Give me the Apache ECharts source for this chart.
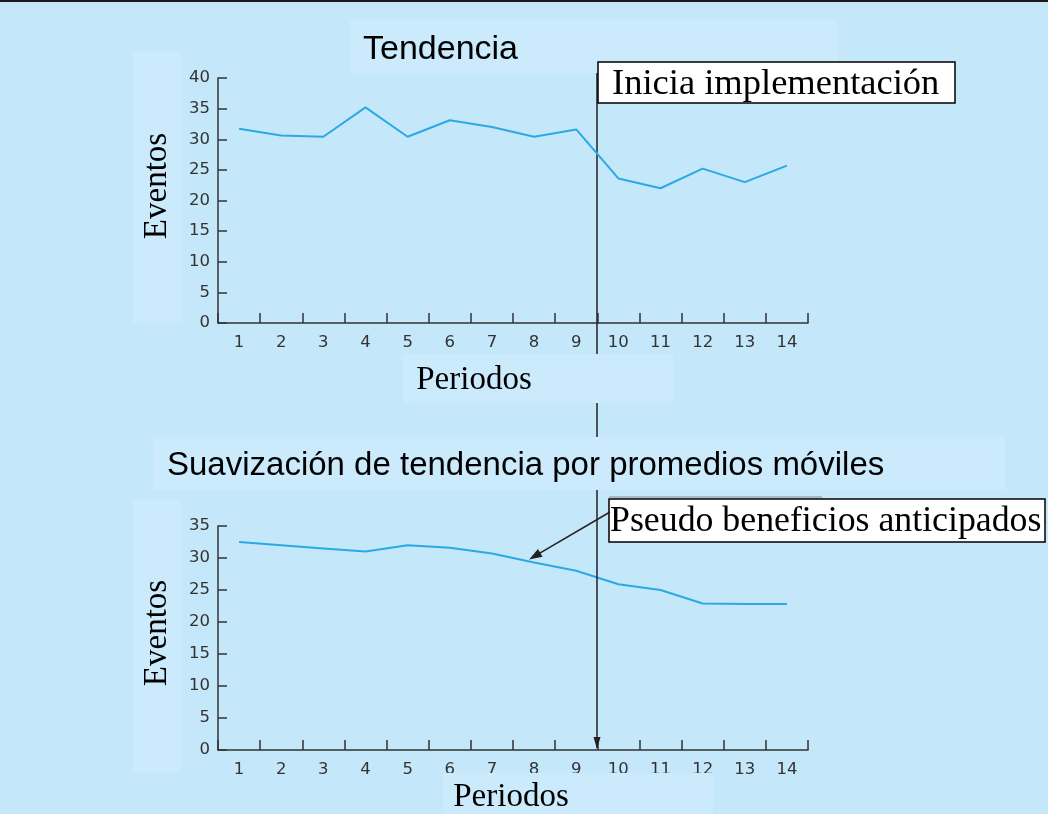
<!DOCTYPE html>
<html>
<head>
<meta charset="utf-8">
<script src="https://cdn.jsdelivr.net/npm/echarts@6/dist/echarts.min.js"></script>
<style>
html,body{margin:0;padding:0;background:#c5e7fa;}
#c{width:1048px;height:814px;}
</style>
</head>
<body>
<div id="c"></div>
<script>
// ---- data ----
const periods = ['1','2','3','4','5','6','7','8','9','10','11','12','13','14'];
const trend = [31.7,30.6,30.4,35.2,30.4,33.1,32.0,30.4,31.6,23.6,22.0,25.2,23.0,25.7];
const smoothed = [32.5,32.0,31.5,31.0,32.0,31.6,30.7,29.3,28.0,25.9,25.0,22.9,22.8,22.8];
const topTicks = [0,5,10,15,20,25,30,35,40];
const bottomTicks = [0,5,10,15,20,25,30,35];
const titleTop = 'Tendencia';
const titleBottom = 'Suavización de tendencia por promedios móviles';
const yName = 'Eventos';
const xName = 'Periodos';
const noteStart = 'Inicia implementación';
const notePseudo = 'Pseudo beneficios anticipados';
const startAfter = '9';   // implementation starts between period 9 and 10
const pseudoAt = '8';     // arrow points at period 8 on the smoothed line

const BG = '#c5e7fa', LIGHT = '#cbebfc', AX = '#333333', LINE = '#2aa9e6';
const SERIF = '"Liberation Serif", "DejaVu Serif", serif';
const SANS = '"Liberation Sans", Arial, sans-serif';

const chart = echarts.init(document.getElementById('c'), null, {renderer:'canvas'});

function xAxisCfg(gi){
  return {
    type:'category', gridIndex:gi, data:periods, boundaryGap:true,
    axisLine:{show:true,lineStyle:{color:AX,width:1.5}},
    axisTick:{show:true,inside:true,length:10,lineStyle:{color:AX,width:1.5}},
    axisLabel:{color:AX,fontFamily:'"DejaVu Sans", sans-serif',fontSize:16.5,margin:11},
    splitLine:{show:false}
  };
}
function yAxisCfg(gi,ticks){
  return {
    type:'value', gridIndex:gi, min:ticks[0], max:ticks[ticks.length-1], interval:ticks[1]-ticks[0],
    axisLine:{show:true,lineStyle:{color:AX,width:1.5}},
    axisTick:{show:true,inside:true,length:9,lineStyle:{color:AX,width:1.5}},
    axisLabel:{color:AX,fontFamily:'"DejaVu Sans", sans-serif',fontSize:16.5,margin:8},
    splitLine:{show:false}
  };
}

chart.setOption({
  animation:false,
  backgroundColor:BG,
  grid:[
    {left:218, top:78, width:590, height:245},
    {left:218, top:526, width:590, height:224}
  ],
  xAxis:[xAxisCfg(0), xAxisCfg(1)],
  yAxis:[yAxisCfg(0,topTicks), yAxisCfg(1,bottomTicks)],
  series:[
    {type:'line', xAxisIndex:0, yAxisIndex:0, data:trend, symbol:'none', lineStyle:{color:LINE,width:2}, z:5},
    {type:'line', xAxisIndex:1, yAxisIndex:1, data:smoothed, symbol:'none', lineStyle:{color:LINE,width:2}, z:5}
  ]
});

// positions derived from the axes
const i9 = periods.indexOf(startAfter);
const xa = chart.convertToPixel({xAxisIndex:0}, periods[i9]);
const xb = chart.convertToPixel({xAxisIndex:0}, periods[i9+1]);
const vx = Math.round((xa+xb)/2);
const y0Bottom = chart.convertToPixel({yAxisIndex:1}, 0);
const ip = periods.indexOf(pseudoAt);
const tip = chart.convertToPixel({xAxisIndex:1,yAxisIndex:1},[ip, smoothed[ip]]);
const tipX = tip[0]-5, tipY = tip[1]-3;
const fromX = 610, fromY = 512;
const ang = Math.atan2(tipY-fromY, tipX-fromX);
function head(x,y,a,len,w){
  const bx = x - len*Math.cos(a), by = y - len*Math.sin(a);
  const nx = -Math.sin(a)*w, ny = Math.cos(a)*w;
  return [[x,y],[bx+nx,by+ny],[bx-nx,by-ny]];
}

const g = [];
// top thin dark line
g.push({type:'rect', shape:{x:0,y:0,width:1048,height:2}, style:{fill:'#1a1a1a'}, z:1});
// vertical line through top chart
g.push({type:'line', shape:{x1:vx,y1:62,x2:vx,y2:437}, style:{stroke:'#222',lineWidth:1.5}, z:1});
// light panels
[[350,20,488,53],[133,52,49,271],[403,354,270,49],[153,437,852,53],[133,500,49,272],[443,773,270,41]].forEach(r=>{
  g.push({type:'rect', shape:{x:r[0],y:r[1],width:r[2],height:r[3]}, style:{fill:LIGHT}, z:2});
});
// bottom vertical arrow
g.push({type:'line', shape:{x1:vx,y1:490,x2:vx,y2:y0Bottom-2}, style:{stroke:'#222',lineWidth:1.5}, z:10});
g.push({type:'polygon', shape:{points:head(vx,y0Bottom-1,Math.PI/2,12,3.5)}, style:{fill:'#222'}, z:10});
// titles
g.push({type:'text', z:20, style:{text:titleTop, x:363, y:50, font:'34px '+SANS, fill:'#000', textVerticalAlign:'middle'}});
g.push({type:'text', z:20, style:{text:titleBottom, x:167, y:466, font:'33px '+SANS, fill:'#000', textVerticalAlign:'middle'}});
// axis names
g.push({type:'text', z:20, x:157, y:186, rotation:Math.PI/2, style:{text:yName, x:0, y:0, font:'33px '+SERIF, fill:'#000', textAlign:'center', textVerticalAlign:'middle'}});
g.push({type:'text', z:20, x:157, y:633, rotation:Math.PI/2, style:{text:yName, x:0, y:0, font:'33px '+SERIF, fill:'#000', textAlign:'center', textVerticalAlign:'middle'}});
g.push({type:'text', z:20, style:{text:xName, x:474, y:380, font:'33px '+SERIF, fill:'#000', textAlign:'center', textVerticalAlign:'middle'}});
g.push({type:'text', z:20, style:{text:xName, x:511, y:797, font:'33px '+SERIF, fill:'#000', textAlign:'center', textVerticalAlign:'middle'}});
// note boxes
g.push({type:'rect', z:30, shape:{x:vx+1,y:62,width:357,height:41}, style:{fill:'#fff',stroke:'#000',lineWidth:1.5}});
g.push({type:'text', z:31, style:{text:noteStart, x:612, y:84, font:'36.5px '+SERIF, fill:'#000', textVerticalAlign:'middle'}});
g.push({type:'line', z:29, shape:{x1:609,y1:497,x2:822,y2:497}, style:{stroke:'#8a8a8a',lineWidth:1}});
g.push({type:'rect', z:30, shape:{x:609,y:499,width:436,height:43}, style:{fill:'#fff',stroke:'#000',lineWidth:1.5}});
g.push({type:'text', z:31, style:{text:notePseudo, x:610, y:522, font:'35.8px '+SERIF, fill:'#000', textVerticalAlign:'middle'}});
// diagonal arrow
g.push({type:'line', z:32, shape:{x1:fromX,y1:fromY,x2:tipX-8*Math.cos(ang),y2:tipY-8*Math.sin(ang)}, style:{stroke:'#222',lineWidth:1.5}});
g.push({type:'polygon', z:32, shape:{points:head(tipX,tipY,ang,13,4.5)}, style:{fill:'#222'}});

chart.setOption({graphic:g});
</script>
</body>
</html>
